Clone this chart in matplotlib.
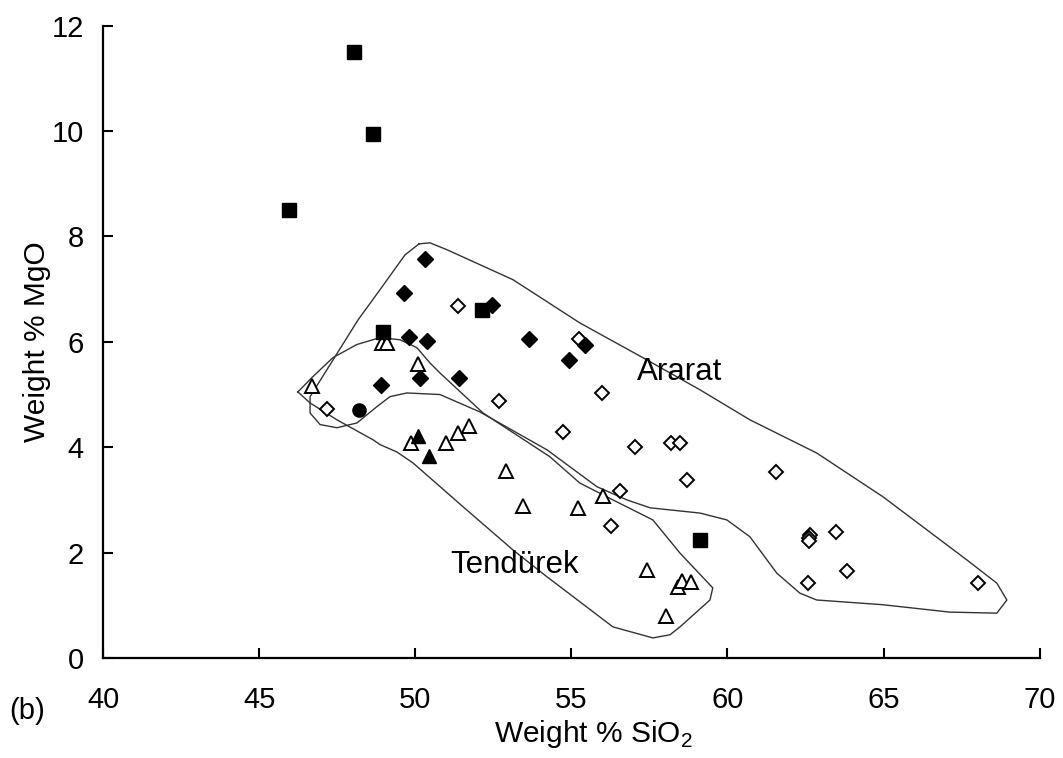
import matplotlib
matplotlib.use('Agg')
import matplotlib.pyplot as plt

plt.rcParams['font.family'] = ['Liberation Sans', 'DejaVu Sans']
plt.rcParams['mathtext.fontset'] = 'custom'
plt.rcParams['mathtext.rm'] = 'Liberation Sans'

# filled squares
sq_x = [48.04, 48.65, 45.96, 48.97, 52.14, 59.12]
sq_y = [11.51, 9.95, 8.51, 6.19, 6.61, 2.24]

# filled diamonds
fd_x = [50.31, 49.64, 52.46, 49.80, 50.37, 53.64, 55.43, 54.92, 50.15, 51.40, 48.90]
fd_y = [7.58, 6.93, 6.70, 6.10, 6.02, 6.06, 5.94, 5.66, 5.32, 5.32, 5.19]

# filled circle
fc_x = [48.20]
fc_y = [4.71]

# filled triangles
ft_x = [50.09, 50.44]
ft_y = [4.22, 3.84]

# open triangles
ot_x = [46.69, 48.93, 49.09, 50.09, 49.86, 50.98, 51.37, 51.72, 52.90, 53.45,
        55.21, 56.01, 57.42, 58.41, 58.54, 58.83, 58.03]
ot_y = [5.17, 5.98, 5.98, 5.58, 4.08, 4.08, 4.27, 4.41, 3.55, 2.89,
        2.85, 3.08, 1.67, 1.35, 1.46, 1.44, 0.80]

# open diamonds
od_x = [51.37, 47.17, 52.68, 55.24, 55.98, 54.73, 57.03, 58.19, 58.48, 58.70,
        56.55, 56.27, 61.55, 62.66, 62.62, 62.60, 63.47, 63.82, 62.57, 68.02]
od_y = [6.69, 4.73, 4.88, 6.06, 5.03, 4.29, 4.01, 4.08, 4.08, 3.38,
        3.17, 2.51, 3.53, 2.34, 2.28, 2.22, 2.39, 1.65, 1.42, 1.42]

# field outlines
ararat_x = [50.12, 50.47, 51.01, 53.13, 55.27, 57.29, 59.12, 60.72, 62.86, 64.98,
            67.67, 68.63, 68.95, 68.63, 67.12, 64.98, 62.86, 62.32, 61.58, 60.72,
            59.98, 59.12, 57.52, 56.78, 55.82, 54.22, 52.07, 50.79, 49.73, 49.19,
            48.77, 48.13, 47.49, 46.95, 46.63, 46.63, 48.17, 48.87, 49.67, 50.12]
ararat_y = [7.86, 7.88, 7.75, 7.18, 6.36, 5.70, 5.09, 4.52, 3.89, 3.06,
            1.86, 1.42, 1.10, 0.85, 0.87, 1.01, 1.10, 1.23, 1.61, 2.30,
            2.62, 2.75, 2.85, 3.00, 3.25, 3.95, 4.67, 5.00, 5.03, 4.96,
            4.77, 4.46, 4.37, 4.43, 4.65, 4.96, 6.42, 6.99, 7.65, 7.86]

tend_x = [46.24, 46.72, 47.36, 48.13, 48.87, 49.51, 50.05, 50.47, 50.79, 52.17,
          54.31, 55.27, 56.33, 57.61, 58.48, 59.53, 59.44, 58.48, 58.16, 57.61,
          56.33, 54.22, 53.13, 51.53, 49.93, 49.41, 48.87, 48.65, 47.49, 46.63, 46.24]
tend_y = [5.05, 5.34, 5.70, 5.95, 6.08, 6.04, 5.89, 5.60, 5.41, 4.65,
          3.82, 3.32, 3.00, 2.62, 1.99, 1.33, 1.10, 0.59, 0.44, 0.38,
          0.59, 1.54, 2.05, 2.87, 3.70, 3.91, 4.05, 4.14, 4.52, 4.84, 5.05]

fig = plt.figure(figsize=(10.63, 7.58), dpi=100)
ax = fig.add_axes([0.097, 0.132, 0.881, 0.834])

ax.plot(ararat_x, ararat_y, color='#333333', lw=1.0, zorder=1)
ax.plot(tend_x, tend_y, color='#333333', lw=1.0, zorder=1)

ax.plot(ot_x, ot_y, '^', ms=10.5, mfc='white', mec='black', mew=1.4, ls='none', zorder=2)
ax.plot(od_x, od_y, 'D', ms=7.2, mfc='white', mec='black', mew=1.4, ls='none', zorder=2)
ax.plot(ft_x, ft_y, '^', ms=10.5, color='black', ls='none', zorder=3)
ax.plot(fd_x, fd_y, 'D', ms=8.5, color='black', ls='none', zorder=3)
ax.plot(fc_x, fc_y, 'o', ms=9.5, color='black', ls='none', zorder=3)
ax.plot(sq_x, sq_y, 's', ms=10, color='black', ls='none', zorder=4)

ax.text(58.48, 5.43, 'Ararat', fontsize=22.5, ha='center', va='center')
ax.text(53.19, 1.77, 'Tendürek', fontsize=22.5, ha='center', va='center')

ax.set_xlim(40, 70)
ax.set_ylim(0, 12)
ax.set_xticks([40, 45, 50, 55, 60, 65, 70])
ax.set_yticks([0, 2, 4, 6, 8, 10, 12])
for s in ['top', 'right']:
    ax.spines[s].set_visible(False)
for s in ['left', 'bottom']:
    ax.spines[s].set_linewidth(1.6)
ax.tick_params(direction='in', length=7, width=1.5, labelsize=21)
ax.tick_params(axis='x', pad=20)
ax.tick_params(axis='y', pad=14)

ax.set_xlabel(r'Weight % SiO$_\mathregular{2}$', fontsize=21.5, labelpad=3)
ax.xaxis.label.set_x(0.524)
ax.set_ylabel('Weight % MgO', fontsize=21.5, labelpad=0)
fig.text(0.0254, 0.062, '(b)', fontsize=21, ha='center', va='center')

fig.savefig('out.png', dpi=100)
